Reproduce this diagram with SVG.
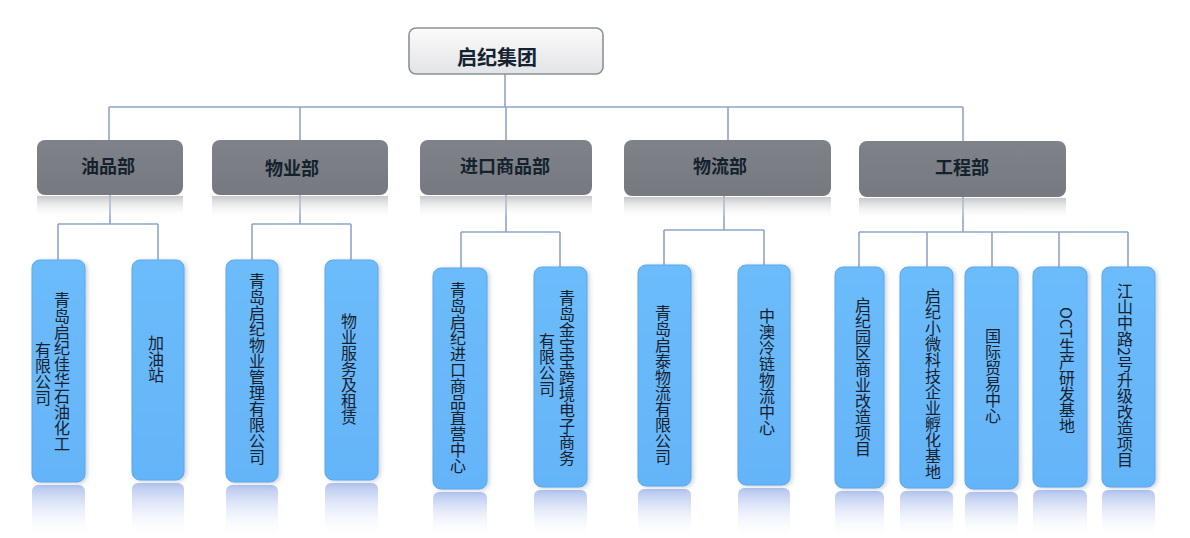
<svg xmlns="http://www.w3.org/2000/svg" width="1190" height="538" viewBox="0 0 1190 538">
<defs>
<linearGradient id="gTop" x1="0" y1="0" x2="0" y2="1">
<stop offset="0" stop-color="#fbfbfb"/><stop offset="1" stop-color="#e3e4e6"/>
</linearGradient>
<linearGradient id="gDept" x1="0" y1="0" x2="0" y2="1">
<stop offset="0" stop-color="#7f8289"/><stop offset="1" stop-color="#767980"/>
</linearGradient>
<linearGradient id="gDeptRef" x1="0" y1="0" x2="0" y2="1">
<stop offset="0" stop-color="#b9babd" stop-opacity="0.8"/><stop offset="1" stop-color="#ffffff" stop-opacity="0"/>
</linearGradient>
<linearGradient id="gLeaf" x1="0" y1="0" x2="0" y2="1">
<stop offset="0" stop-color="#6cbcfb"/><stop offset="1" stop-color="#64b4f8"/>
</linearGradient>
<linearGradient id="gLeafRef" x1="0" y1="0" x2="0" y2="1">
<stop offset="0" stop-color="#a9bdec" stop-opacity="0.9"/><stop offset="1" stop-color="#ffffff" stop-opacity="0"/>
</linearGradient>
<filter id="sh" x="-20%" y="-10%" width="150%" height="120%">
<feDropShadow dx="2" dy="1" stdDeviation="2" flood-color="#6a7a90" flood-opacity="0.35"/>
</filter>
</defs>
<style>
.conn{fill:none;stroke:#8fa5c9;stroke-width:1.6}
.top{fill:url(#gTop);stroke:#8c9199;stroke-width:1.6}
.dept{fill:url(#gDept)}
.dref{fill:url(#gDeptRef)}
.leaf{fill:url(#gLeaf);stroke:#5da8ec;stroke-width:1;filter:url(#sh)}
.lref{fill:url(#gLeafRef)}
.t0{font-family:"Noto Sans CJK SC","Noto Sans",sans-serif;font-size:20px;font-weight:bold;fill:#142330;text-anchor:middle}
.t1{font-family:"Noto Sans CJK SC","Noto Sans",sans-serif;font-size:18px;font-weight:bold;fill:#13222d;text-anchor:middle}
.t2{font-family:"Noto Sans CJK SC","Noto Sans",sans-serif;font-size:16px;fill:#18202c;writing-mode:vertical-rl;text-anchor:start}
</style>
<g id="connectors">
<path class="conn" d="M505 74V107M109 107H963M109 107V140M300 107V140M506 107V140M728 107V140M963 107V141"/>
<path class="conn" d="M110 195V224M58 224H158M58 224V260M158 224V260"/>
<path class="conn" d="M300 195V224M252 224H351M252 224V260M351 224V260"/>
<path class="conn" d="M506 195V232M461 232H560M461 232V268M560 232V267"/>
<path class="conn" d="M724 196V230M664 230H764M664 230V265M764 230V265"/>
<path class="conn" d="M963 197V232M859 232H1128M859 232V267M927 232V267M992 232V267M1059 232V267M1128 232V267"/>
</g>
<g id="root">
<rect class="top" x="409" y="28" width="194" height="46" rx="7"/>
<text class="t0" x="497" y="65">启纪集团</text>
</g>
<g id="dept-oil">
<rect class="dref" x="37" y="196" width="146" height="22"/>
<rect class="dept" x="37" y="140" width="146" height="55" rx="8"/>
<text class="t1" x="108" y="173">油品部</text>
</g>
<g id="dept-property">
<rect class="dref" x="212" y="196" width="176" height="22"/>
<rect class="dept" x="212" y="140" width="176" height="55" rx="8"/>
<text class="t1" x="292" y="175">物业部</text>
</g>
<g id="dept-import">
<rect class="dref" x="420" y="196" width="172" height="22"/>
<rect class="dept" x="420" y="140" width="172" height="55" rx="8"/>
<text class="t1" x="505" y="173">进口商品部</text>
</g>
<g id="dept-logistics">
<rect class="dref" x="624" y="197" width="207" height="22"/>
<rect class="dept" x="624" y="140" width="207" height="56" rx="8"/>
<text class="t1" x="720" y="173">物流部</text>
</g>
<g id="dept-engineering">
<rect class="dref" x="859" y="198" width="207" height="22"/>
<rect class="dept" x="859" y="141" width="207" height="56" rx="8"/>
<text class="t1" x="962" y="174">工程部</text>
</g>
<g id="leaf-1">
<rect class="lref" x="32" y="485" width="53" height="53" rx="6"/>
<rect class="leaf" x="32" y="260" width="53" height="222" rx="8"/>
<text class="t2" x="62" y="292">青岛启纪佳华石油化工</text>
<text class="t2" x="43" y="342">有限公司</text>
</g>
<g id="leaf-2">
<rect class="lref" x="132" y="483" width="52" height="55" rx="6"/>
<rect class="leaf" x="132" y="260" width="52" height="220" rx="8"/>
<text class="t2" x="156" y="335">加油站</text>
</g>
<g id="leaf-3">
<rect class="lref" x="226" y="485" width="52" height="53" rx="6"/>
<rect class="leaf" x="226" y="260" width="52" height="222" rx="8"/>
<text class="t2" x="257" y="273">青岛启纪物业管理有限公司</text>
</g>
<g id="leaf-4">
<rect class="lref" x="325" y="483" width="53" height="55" rx="6"/>
<rect class="leaf" x="325" y="260" width="53" height="220" rx="8"/>
<text class="t2" x="349" y="313">物业服务及租赁</text>
</g>
<g id="leaf-5">
<rect class="lref" x="433" y="492" width="54" height="46" rx="6"/>
<rect class="leaf" x="433" y="268" width="54" height="221" rx="8"/>
<text class="t2" x="458" y="282">青岛启纪进口商品直营中心</text>
</g>
<g id="leaf-6">
<rect class="lref" x="534" y="490" width="53" height="48" rx="6"/>
<rect class="leaf" x="534" y="267" width="53" height="220" rx="8"/>
<text class="t2" x="567" y="290">青岛金宝宝跨境电子商务</text>
<text class="t2" x="547" y="333">有限公司</text>
</g>
<g id="leaf-7">
<rect class="lref" x="638" y="489" width="53" height="49" rx="6"/>
<rect class="leaf" x="638" y="265" width="53" height="221" rx="8"/>
<text class="t2" x="663" y="305">青岛启泰物流有限公司</text>
</g>
<g id="leaf-8">
<rect class="lref" x="738" y="488" width="52" height="50" rx="6"/>
<rect class="leaf" x="738" y="265" width="52" height="220" rx="8"/>
<text class="t2" x="767" y="308">中澳冷链物流中心</text>
</g>
<g id="leaf-9">
<rect class="lref" x="835" y="491" width="49" height="47" rx="6"/>
<rect class="leaf" x="835" y="267" width="49" height="221" rx="8"/>
<text class="t2" x="863" y="297">启纪园区商业改造项目</text>
</g>
<g id="leaf-10">
<rect class="lref" x="900" y="491" width="53" height="47" rx="6"/>
<rect class="leaf" x="900" y="267" width="53" height="221" rx="8"/>
<text class="t2" x="933" y="288">启纪小微科技企业孵化基地</text>
</g>
<g id="leaf-11">
<rect class="lref" x="965" y="492" width="53" height="46" rx="6"/>
<rect class="leaf" x="965" y="267" width="53" height="222" rx="8"/>
<text class="t2" x="993" y="328">国际贸易中心</text>
</g>
<g id="leaf-12">
<rect class="lref" x="1033" y="490" width="54" height="48" rx="6"/>
<rect class="leaf" x="1033" y="267" width="54" height="220" rx="8"/>
<text class="t2" x="1067" y="307">OCT生产研发基地</text>
</g>
<g id="leaf-13">
<rect class="lref" x="1102" y="490" width="53" height="48" rx="6"/>
<rect class="leaf" x="1102" y="267" width="53" height="220" rx="8"/>
<text class="t2" x="1125" y="283">江山中路2号升级改造项目</text>
</g>
</svg>
